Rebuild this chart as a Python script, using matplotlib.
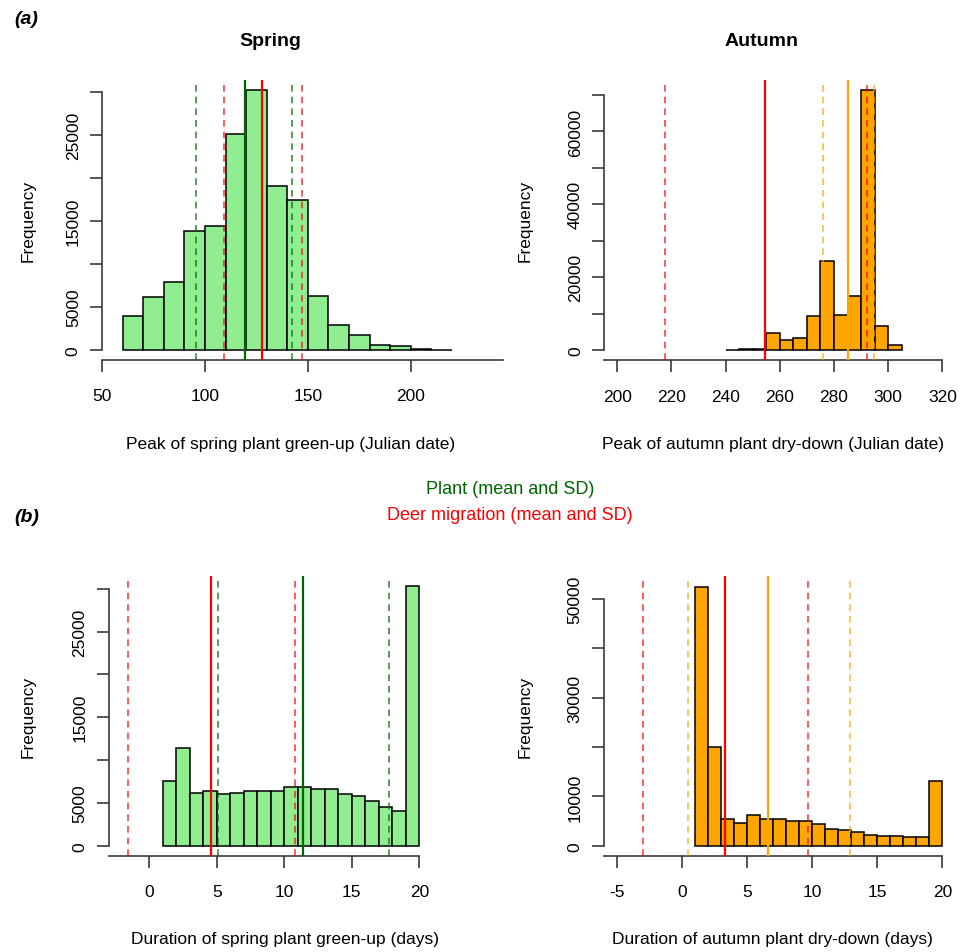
import numpy as np
import matplotlib
matplotlib.use('Agg')
import matplotlib.pyplot as plt

plt.rcParams['font.family'] = ['Liberation Sans', 'DejaVu Sans']

W, H = 972, 953

# ---- data ----
# peak of spring green-up (Julian date), 10-day bins
spring_peak_bins = [60, 70, 80, 90, 100, 110, 120, 130, 140, 150, 160, 170, 180, 190, 200, 210]
spring_peak_counts = [4000, 6100, 7850, 13800, 14400, 25100, 30150, 19100, 17400,
                      6250, 2850, 1700, 600, 450, 100, 20]

# peak of autumn dry-down (Julian date), 5-day bins
autumn_peak_bins = [240, 245, 250, 255, 260, 265, 270, 275, 280, 285, 290, 295, 300]
autumn_peak_counts = [100, 150, 200, 4700, 2750, 3300, 9400, 24500, 9700, 14700, 71500, 6700, 1400]

# duration of spring green-up (days), 1-day bins
spring_dur_bins = [1, 2, 3, 4, 5, 6, 7, 8, 9, 10, 11, 12, 13, 14, 15, 16, 17, 18, 19]
spring_dur_counts = [7540, 11400, 6130, 6370, 5980, 6130, 6330, 6330, 6330, 6840,
                     6840, 6640, 6640, 5980, 5820, 5200, 4530, 4100, 30280]

# duration of autumn dry-down (days), 1-day bins
autumn_dur_bins = [1, 2, 3, 4, 5, 6, 7, 8, 9, 10, 11, 12, 13, 14, 15, 16, 17, 18, 19]
autumn_dur_counts = [52500, 19930, 5400, 4600, 6200, 5400, 5400, 4930, 4930, 4390,
                     3380, 3180, 2700, 2230, 1890, 1890, 1690, 1690, 13180]

# mean, mean-SD, mean+SD
spring_peak_plant = [119.6, 95.7, 142.5]
spring_peak_deer = [127.6, 109.1, 147.1]
autumn_peak_plant = [285.2, 275.8, 294.9]
autumn_peak_deer = [254.7, 217.6, 292.1]
spring_dur_plant = [11.39, 5.11, 17.73]
spring_dur_deer = [4.55, -1.55, 10.79]
autumn_dur_plant = [6.57, 0.46, 12.9]
autumn_dur_deer = [3.31, -3.05, 9.69]

fig = plt.figure(figsize=(W/100., H/100.), dpi=100)

AXC = '#3a3a3a'
FS = 12.5


def ftext(x, y, s, **kw):
    fig.text(x/W, 1 - y/H, s, **kw)


def panel(box, xlim, ylim, bins, counts, width, fill, plant, plant_col,
          deer, xticks, yticks, ylabels, xend):
    left, right, top, bottom = box
    ax = fig.add_axes([left/W, 1 - bottom/H, (right - left)/W, (bottom - top)/H])
    ax.patch.set_alpha(0)
    ax.bar(bins, counts, width=width, align='edge', color=fill,
           edgecolor='black', linewidth=1.1, zorder=2)
    # plant lines
    ax.axvline(plant[0], color=plant_col, lw=1.6, zorder=3)
    for v in plant[1:]:
        ax.axvline(v, color=plant_col, lw=1.2, ls=(0, (4, 3)), alpha=0.75, zorder=3)
    # deer lines
    ax.axvline(deer[0], color='red', lw=1.6, zorder=3)
    for v in deer[1:]:
        ax.axvline(v, color='red', lw=1.2, ls=(0, (4, 3)), alpha=0.75, zorder=3)
    ax.set_xlim(xlim)
    ax.set_ylim(ylim)
    for s in ['top', 'right']:
        ax.spines[s].set_visible(False)
    ax.spines['left'].set_bounds(yticks[0], yticks[-1])
    ax.spines['bottom'].set_bounds(xlim[0], xend)
    for s in ['left', 'bottom']:
        ax.spines[s].set_color(AXC)
        ax.spines[s].set_linewidth(1.2)
    ax.set_xticks(xticks)
    ax.set_xticklabels([str(t) for t in xticks], fontsize=FS)
    ax.set_yticks(yticks)
    ax.set_yticklabels(ylabels, rotation=90, va='center', fontsize=FS)
    ax.tick_params(axis='both', length=8.4, width=1.2, color=AXC)
    ax.tick_params(axis='x', pad=12)
    ax.tick_params(axis='y', pad=7)
    return ax


panel((102.2, 503.3, 81, 361), (50, 245), (-1161, 31352),
      spring_peak_bins, spring_peak_counts, 10, '#90EE90',
      spring_peak_plant, 'darkgreen', spring_peak_deer,
      [50, 100, 150, 200], [0, 5000, 10000, 15000, 20000, 25000, 30000],
      ['0', '5000', '', '15000', '', '25000', ''], 245)

panel((604.3, 955.3, 80.9, 361.4), (195.2, 324.8), (-2852, 74152),
      autumn_peak_bins, autumn_peak_counts, 5, 'orange',
      autumn_peak_plant, 'orange', autumn_peak_deer,
      [200, 220, 240, 260, 280, 300, 320],
      [0, 10000, 20000, 30000, 40000, 50000, 60000, 70000],
      ['0', '', '20000', '', '40000', '', '60000', ''], 320)

panel((109, 431.2, 576.9, 857.1), (-2.985, 20.88), (-1211, 31491),
      spring_dur_bins, spring_dur_counts, 1, '#90EE90',
      spring_dur_plant, 'darkgreen', spring_dur_deer,
      [0, 5, 10, 15, 20], [0, 5000, 10000, 15000, 20000, 25000, 30000],
      ['0', '5000', '', '15000', '', '25000', ''], 20)

panel((604.0, 955.3, 577.4, 857.1), (-6.02, 21.0), (-2100, 54600),
      autumn_dur_bins, autumn_dur_counts, 1, 'orange',
      autumn_dur_plant, 'orange', autumn_dur_deer,
      [-5, 0, 5, 10, 15, 20], [0, 10000, 20000, 30000, 40000, 50000],
      ['0', '10000', '', '30000', '', '50000'], 20)

# texts
ftext(26, 19, '(a)', fontsize=14, fontweight='bold', fontstyle='italic', ha='center', va='center')
ftext(27, 517, '(b)', fontsize=14, fontweight='bold', fontstyle='italic', ha='center', va='center')
ftext(270, 41, 'Spring', fontsize=14, fontweight='bold', ha='center', va='center')
ftext(762, 41, 'Autumn', fontsize=14, fontweight='bold', ha='center', va='center')
ftext(510, 490, 'Plant (mean and SD)', fontsize=13, color='darkgreen', ha='center', va='center')
ftext(510, 516, 'Deer migration (mean and SD)', fontsize=13, color='red', ha='center', va='center')

ftext(291, 445, 'Peak of spring plant green-up (Julian date)', fontsize=FS, ha='center', va='center')
ftext(773, 445, 'Peak of autumn plant dry-down (Julian date)', fontsize=FS, ha='center', va='center')
ftext(285, 940, 'Duration of spring plant green-up (days)', fontsize=FS, ha='center', va='center')
ftext(772, 940, 'Duration of autumn plant dry-down (days)', fontsize=FS, ha='center', va='center')

for (x, y) in [(28, 221), (525, 221), (28, 717), (525, 717)]:
    ftext(x, y, 'Frequency', fontsize=FS, rotation=90, ha='center', va='center')

fig.savefig('out.png', dpi=100)
